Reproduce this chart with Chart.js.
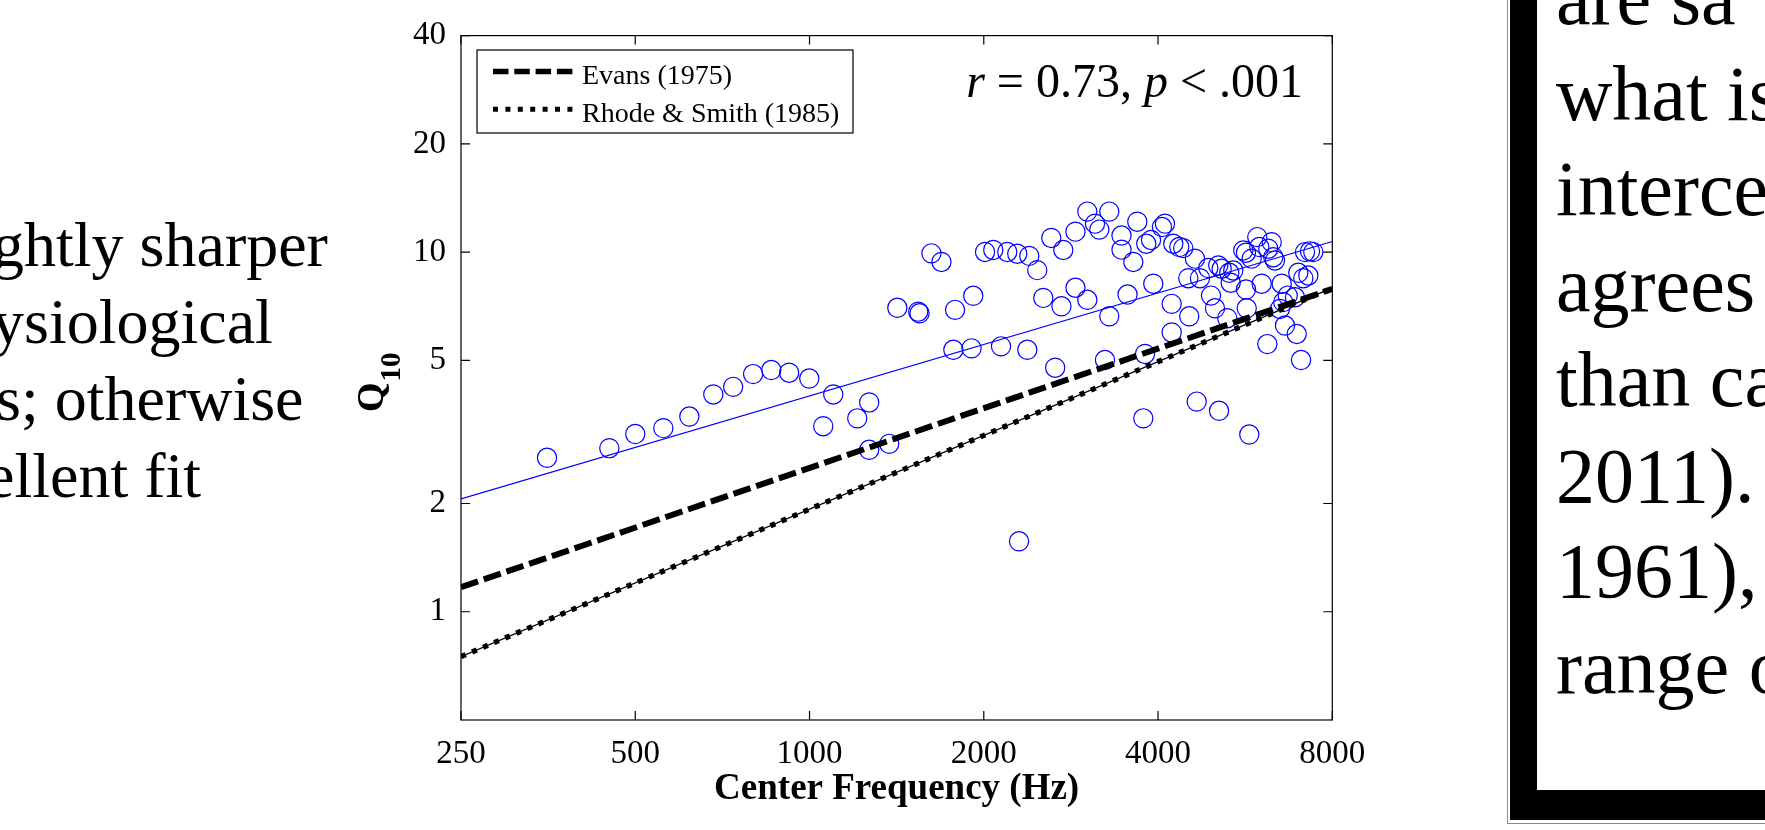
<!DOCTYPE html>
<html>
<head>
<meta charset="utf-8">
<script src="https://cdn.jsdelivr.net/npm/chart.js@4.4.1/dist/chart.umd.min.js"></script>
<style>
  html, body { margin: 0; padding: 0; width: 1765px; height: 830px; overflow: hidden; background: #fff; }
  .serif { font-family: 'Liberation Serif', 'Times New Roman', serif; color: #000; }
  #leftText { position: absolute; left: 0; top: 206px; font-size: 64px; line-height: 77px; white-space: nowrap; }
  #frameOuter { position: absolute; left: 1507px; top: -30px; width: 400px; height: 854px; box-sizing: border-box;
                border: 1px solid #8a8a8a; background: #fff; }
  #frameInner { position: absolute; left: 2px; top: -10px; right: -10px; bottom: 3px; box-sizing: border-box;
                border-left: 27px solid #000; border-bottom: 30px solid #000; background: #fff; }
  #rightText { position: absolute; left: 1556px; top: -50px; font-size: 78px; line-height: 95.5px; white-space: nowrap; }
  #chartWrap { position: absolute; left: 300px; top: 0; width: 1100px; height: 830px; }
</style>
</head>
<body>
<div id="leftText" class="serif">
  <div style="margin-left:-8px">ghtly sharper</div>
  <div style="margin-left:-8px">ysiological</div>
  <div style="margin-left:-4px">s; otherwise</div>
  <div style="margin-left:-14px">ellent fit</div>
</div>

<div id="frameOuter"><div id="frameInner"></div></div>
<div id="rightText" class="serif">
  <div>are sa</div>
  <div>what is</div>
  <div>interce</div>
  <div>agrees</div>
  <div>than ca</div>
  <div>2011).</div>
  <div>1961),</div>
  <div>range o</div>
</div>

<div id="chartWrap"><canvas id="c" width="1100" height="830"></canvas></div>

<script>
// ---------------- data ----------------
const centerFreqHz = [
  352, 451, 500, 559, 620, 682, 738, 799, 859, 922, 999, 1099, 1056, 1209, 1268, 1268, 1373,
  1418, 1541, 1549, 1624, 1690, 1784, 1918, 1772, 1905,
  2010, 2077, 2196, 2285, 2397, 2474, 2616, 2744, 2880, 3019, 3113, 3167, 3295, 3459, 3459,
  3625, 3683, 3817, 3890, 4063, 4112,
  2534, 2724, 2880, 3019, 3295, 3543, 2142, 2378, 2657, 3239, 3798,
  3925, 4223, 4529, 4223, 4250, 4353, 4422, 4633, 4512, 4726, 4885, 5083, 5152, 5310, 5396,
  5340, 5675, 4938, 5017, 5268, 5692, 5615, 5675, 5805, 5936, 5984, 6041, 6202, 6286, 6326,
  6369, 6541, 6700, 6583, 6497, 6628, 6944, 6178, 7065, 6897, 6988, 7129, 7272, 7177, 7322, 7418,
  3772, 4665, 5098, 5750, 2301
];
const q10Values = [
  2.68, 2.85, 3.12, 3.24, 3.49, 4.02, 4.22, 4.58, 4.70, 4.62, 4.45, 4.02, 3.28, 3.45, 3.82, 2.82, 2.93,
  7.00, 6.83, 6.76, 9.92, 9.39, 6.91, 7.56, 5.35, 5.40,
  10.01, 10.14, 10.01, 9.90, 9.76, 8.91, 10.95, 10.14, 11.40, 12.96, 12.00, 11.55, 12.96, 11.12, 10.16,
  9.39, 12.15, 10.55, 10.81, 11.74, 12.00,
  7.46, 7.07, 7.96, 7.37, 6.63, 7.62, 5.47, 5.35, 4.77, 5.01, 5.21,
  8.17, 7.18, 6.63, 5.98, 10.55, 10.33, 10.26, 9.59, 8.46, 8.46, 9.03, 9.18, 8.99, 8.76, 8.89,
  8.22, 7.87, 7.57, 6.98, 6.55, 6.98, 10.11, 9.96, 9.59, 11.01, 10.33, 8.17, 10.22, 10.66, 9.68,
  9.48, 8.17, 7.57, 7.26, 6.95, 6.25, 5.92, 5.55, 5.01, 7.49, 8.76, 8.46, 8.61, 10.00, 10.05, 10.00,
  3.45, 3.84, 3.62, 3.11, 1.57
];
const lineFreqHz = [250, 8000];
const evansQ10 = [1.17, 7.9];
const rhodeSmithQ10 = [0.75, 7.95];
const fitQ10 = [2.06, 10.7];

const xTickValues = [250, 500, 1000, 2000, 4000, 8000];
const yTickValues = [1, 2, 5, 10, 20, 40];
const seriesLabels = ['Evans (1975)', 'Rhode & Smith (1985)'];
const statText = ['r', ' = 0.73, ', 'p', ' < .001'];
const xTitle = 'Center Frequency (Hz)';
const yTitle = ['Q', '10'];

// ---------------- chart ----------------
const SERIF = "'Liberation Serif', 'Times New Roman', serif";
const toXY = (xs, ys) => xs.map((v, i) => ({ x: v, y: ys[i] }));

const decor = {
  id: 'decor',
  afterDraw(chart) {
    const { ctx, chartArea: ca, scales } = chart;
    const xs = scales.x, ys = scales.y;
    ctx.save();
    // frame
    ctx.strokeStyle = '#000';
    ctx.lineWidth = 1.2;
    ctx.setLineDash([]);
    ctx.strokeRect(ca.left, ca.top, ca.right - ca.left, ca.bottom - ca.top);
    // inward ticks on all four sides
    const tl = 9;
    ctx.beginPath();
    xTickValues.forEach(v => {
      const p = xs.getPixelForValue(v);
      ctx.moveTo(p, ca.bottom); ctx.lineTo(p, ca.bottom - tl);
      ctx.moveTo(p, ca.top); ctx.lineTo(p, ca.top + tl);
    });
    yTickValues.forEach(v => {
      const p = ys.getPixelForValue(v);
      ctx.moveTo(ca.left, p); ctx.lineTo(ca.left + tl, p);
      ctx.moveTo(ca.right, p); ctx.lineTo(ca.right - tl, p);
    });
    ctx.stroke();

    // legend box
    const lx = 177, ly = 50, lw = 376, lh = 83;
    ctx.fillStyle = '#fff';
    ctx.fillRect(lx, ly, lw, lh);
    ctx.lineWidth = 1.2;
    ctx.strokeStyle = '#000';
    ctx.strokeRect(lx, ly, lw, lh);
    const rows = [
      { label: seriesLabels[0], y: 71.5, dash: [15.5, 5.8], w: 5.5 },
      { label: seriesLabels[1], y: 109.3, dash: [5, 7.4], w: 5 }
    ];
    rows.forEach(r => {
      ctx.beginPath();
      ctx.setLineDash(r.dash);
      ctx.lineCap = 'butt';
      ctx.lineWidth = r.w;
      ctx.moveTo(193, r.y); ctx.lineTo(273, r.y);
      ctx.stroke();
      ctx.setLineDash([]);
      ctx.fillStyle = '#000';
      ctx.font = '28px ' + SERIF;
      ctx.textBaseline = 'alphabetic';
      ctx.textAlign = 'left';
      ctx.fillText(r.label, 282, r.y + 12.4);
    });

    // statistic annotation
    const fonts = ['italic 48px ' + SERIF, '48px ' + SERIF, 'italic 48px ' + SERIF, '48px ' + SERIF];
    let total = 0;
    statText.forEach((s, i) => { ctx.font = fonts[i]; total += ctx.measureText(s).width; });
    let sx = 1003 - total;
    statText.forEach((s, i) => { ctx.font = fonts[i]; ctx.fillText(s, sx, 96.7); sx += ctx.measureText(s).width; });

    // y-axis title Q10 (rotated, with subscript)
    ctx.translate(83, 412);
    ctx.rotate(-Math.PI / 2);
    ctx.font = 'bold 38px ' + SERIF;
    ctx.fillText(yTitle[0], 0, 0);
    const qw = ctx.measureText(yTitle[0]).width;
    ctx.font = 'bold 29px ' + SERIF;
    ctx.fillText(yTitle[1], qw + 1, 17);
    ctx.restore();
  }
};

const CHART_LEFT = 161, CHART_BOTTOM = 720, CANVAS_H = 830;

new Chart(document.getElementById('c'), {
  type: 'scatter',
  data: {
    datasets: [
      { label: seriesLabels[0], data: toXY(lineFreqHz, evansQ10), showLine: true,
        borderColor: '#000', borderWidth: 6, borderDash: [18, 6], pointRadius: 0, borderCapStyle: 'butt' },
      { label: seriesLabels[1], data: toXY(lineFreqHz, rhodeSmithQ10), showLine: true,
        borderColor: '#000', borderWidth: 5.3, borderDash: [5.2, 6.8], pointRadius: 0, borderCapStyle: 'butt' },
      { label: seriesLabels[1] + ' (thin)', data: toXY(lineFreqHz, rhodeSmithQ10), showLine: true,
        borderColor: '#000', borderWidth: 1.3, pointRadius: 0 },
      { label: 'fit', data: toXY(lineFreqHz, fitQ10), showLine: true,
        borderColor: '#0000ff', borderWidth: 1.2, pointRadius: 0 },
      { label: 'Q10', data: toXY(centerFreqHz, q10Values), showLine: false,
        pointStyle: 'circle', pointRadius: 9.6, pointBorderWidth: 1.2,
        borderColor: '#0000ff', backgroundColor: 'rgba(0,0,0,0)',
        pointBackgroundColor: 'rgba(0,0,0,0)', pointBorderColor: '#0000ff' }
    ]
  },
  options: {
    responsive: false,
    animation: false,
    devicePixelRatio: 1,
    layout: { padding: { top: 35.6, right: 67.7, bottom: 0, left: 0 } },
    plugins: { legend: { display: false }, tooltip: { enabled: false } },
    scales: {
      x: {
        type: 'logarithmic', min: 250, max: 8000, bounds: 'data',
        grid: { display: false }, border: { display: false },
        afterBuildTicks: s => { s.ticks = xTickValues.map(v => ({ value: v, major: false })); },
        afterFit: s => { s.height = CANVAS_H - CHART_BOTTOM; },
        ticks: { autoSkip: false, maxRotation: 0, minRotation: 0, padding: 7, color: '#000',
                 font: { family: SERIF, size: 33 }, callback: v => String(v) },
        title: { display: true, text: xTitle, color: '#000', padding: { top: 0, bottom: 18 },
                 font: { family: SERIF, size: 37, weight: 'bold' } }
      },
      y: {
        type: 'logarithmic', min: 0.5, max: 40, bounds: 'data',
        grid: { display: false }, border: { display: false },
        afterBuildTicks: s => { s.ticks = yTickValues.map(v => ({ value: v, major: false })); },
        afterFit: s => { s.width = CHART_LEFT; },
        ticks: { autoSkip: false, padding: 7, color: '#000',
                 font: { family: SERIF, size: 33 }, callback: v => String(v) }
      }
    }
  },
  plugins: [decor]
});
</script>
</body>
</html>
